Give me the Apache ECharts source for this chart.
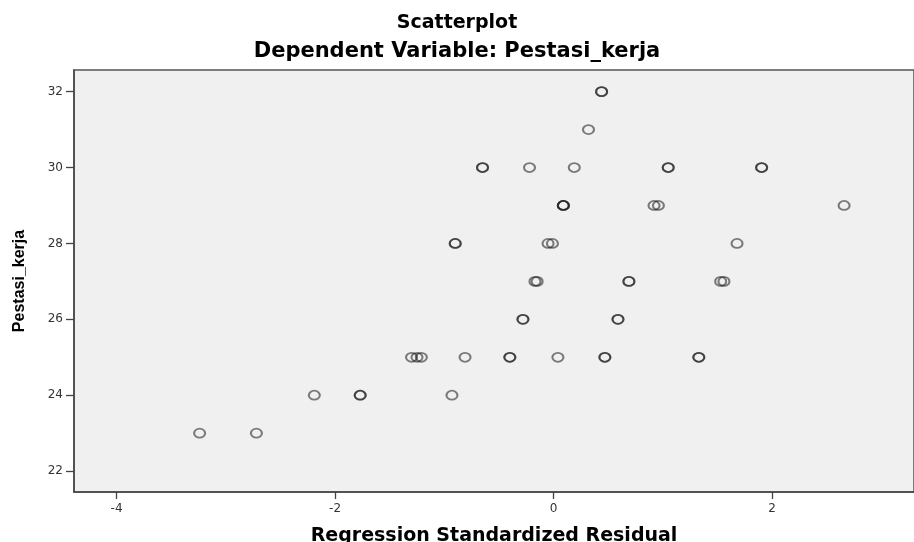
<!DOCTYPE html>
<html>
<head>
<meta charset="utf-8">
<script src="https://cdn.jsdelivr.net/npm/echarts@6/dist/echarts.min.js"></script>
<style>
html, body { margin: 0; padding: 0; background: #fff; }
#scatter { width: 914px; height: 542px; }
</style>
</head>
<body>
<div id="scatter"></div>
<script>
// regression standardized residual (x) vs Pestasi_kerja (y)
const residuals = [
  0.44, 0.44,
  0.32,
  -0.65, -0.65, -0.22, 0.19, 1.05, 1.05, 1.905, 1.905,
  0.09, 0.09, 0.09, 0.92, 0.96, 2.66,
  -0.90, -0.90, -0.05, -0.01, 1.68,
  -0.17, -0.15, 0.69, 0.69, 1.53, 1.56,
  -0.28, -0.28, 0.59, 0.59,
  -1.30, -1.25, -1.21, -0.81, -0.40, -0.40, 0.04, 0.47, 0.47, 1.33, 1.33,
  -2.19, -1.77, -1.77, -0.93,
  -3.24, -2.72
]
const performance = [
  32, 32,
  31,
  30, 30, 30, 30, 30, 30, 30, 30,
  29, 29, 29, 29, 29, 29,
  28, 28, 28, 28, 28,
  27, 27, 27, 27, 27, 27,
  26, 26, 26, 26,
  25, 25, 25, 25, 25, 25, 25, 25, 25, 25, 25,
  24, 24, 24, 24,
  23, 23
]
const xTicks = [-4, -2, 0, 2]
const yTicks = [22, 24, 26, 28, 30, 32]

const chartDom = document.getElementById('scatter')
const myChart = echarts.init(chartDom)
const points = residuals.map(function (v, i) { return [v, performance[i]] })

const option = {
  animation: false,
  title: [
    {
      text: 'Scatterplot',
      left: 'center',
      top: 9,
      textStyle: { fontFamily: 'DejaVu Sans', fontSize: 19, fontWeight: 'bold', color: '#000' }
    },
    {
      text: 'Dependent Variable: Pestasi_kerja',
      left: 'center',
      top: 36,
      textStyle: { fontFamily: 'DejaVu Sans', fontSize: 21, fontWeight: 'bold', color: '#000' }
    }
  ],
  grid: {
    left: 74,
    right: 0,
    top: 70,
    bottom: 50,
    outerBoundsMode: 'none',
    show: true,
    backgroundColor: '#f0f0f0',
    borderColor: '#555',
    borderWidth: 1.5
  },
  xAxis: {
    type: 'value',
    min: -4.39,
    max: 3.30,
    name: 'Regression Standardized Residual',
    nameLocation: 'middle',
    nameGap: 35,
    nameTextStyle: { fontFamily: 'DejaVu Sans', fontSize: 19, fontWeight: 'bold', color: '#000' },
    splitLine: { show: false },
    axisLine: { show: true, onZero: false, lineStyle: { color: '#444', width: 1.5 } },
    axisTick: { show: true, customValues: xTicks, length: 7, lineStyle: { color: '#444', width: 1.3 } },
    axisLabel: { customValues: xTicks, margin: 11, fontFamily: 'DejaVu Sans', fontSize: 12, color: '#333' }
  },
  yAxis: {
    type: 'value',
    min: 21.45,
    max: 32.57,
    name: 'Pestasi_kerja',
    nameLocation: 'middle',
    nameGap: 46,
    nameTextStyle: { fontFamily: 'Liberation Sans', fontSize: 16, fontWeight: 'bold', color: '#000' },
    splitLine: { show: false },
    axisLine: { show: true, onZero: false, lineStyle: { color: '#444', width: 1.5 } },
    axisTick: { show: true, customValues: yTicks, length: 8, lineStyle: { color: '#444', width: 1.3 } },
    axisLabel: { customValues: yTicks, margin: 11, fontFamily: 'DejaVu Sans', fontSize: 12, color: '#333' }
  },
  series: [
    {
      type: 'scatter',
      data: points,
      symbol: 'circle',
      symbolSize: [11, 9],
      itemStyle: {
        color: 'rgba(0,0,0,0)',
        borderColor: 'rgba(20,20,20,0.68)',
        borderWidth: 1.9
      }
    }
  ]
}
option && myChart.setOption(option)
window.addEventListener('resize', function () {
  myChart.resize()
})
</script>
</body>
</html>
